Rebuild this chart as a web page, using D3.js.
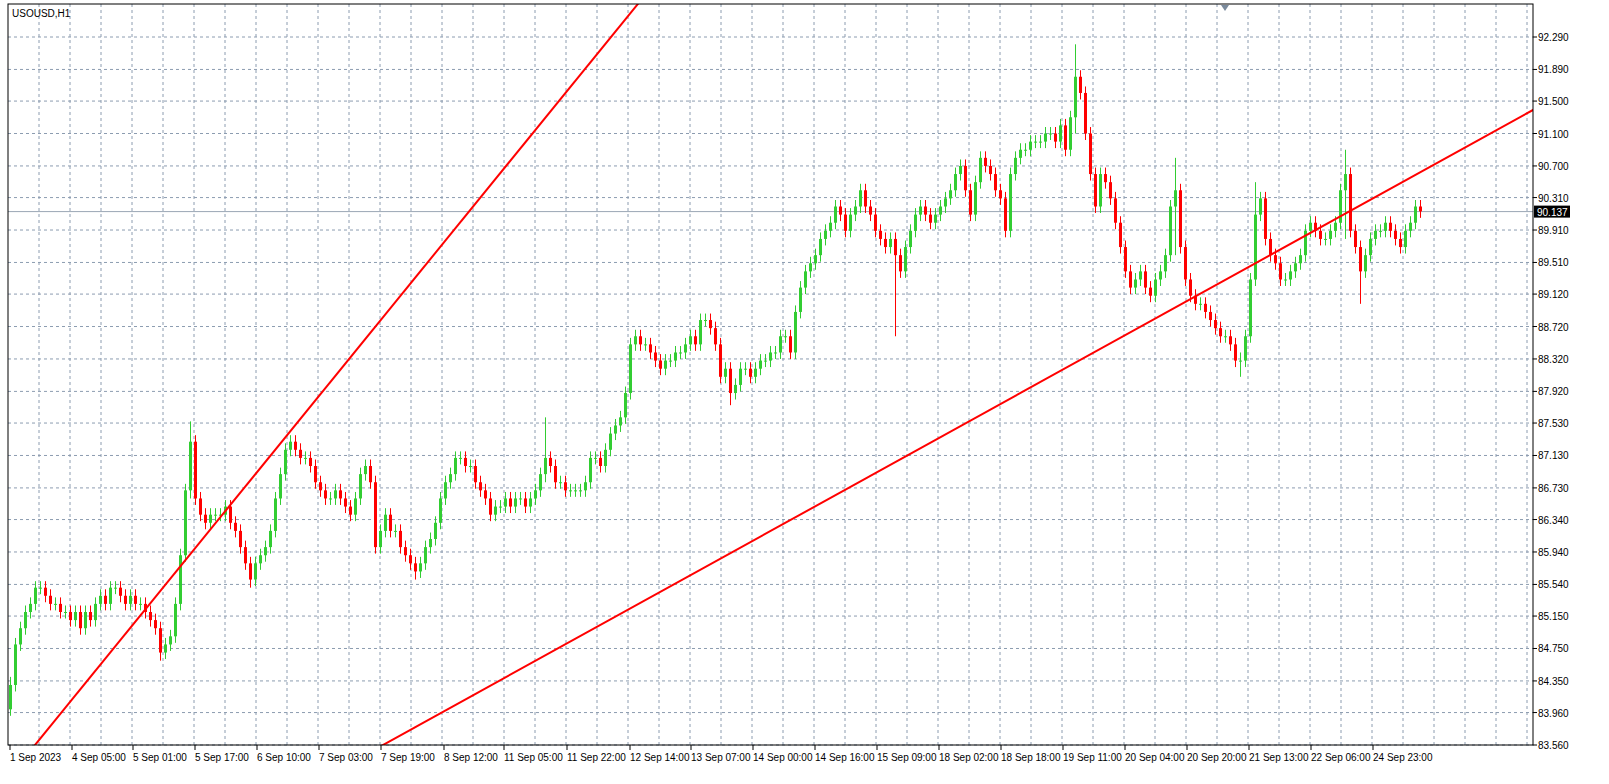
<!DOCTYPE html><html><head><meta charset="utf-8">
<script src="https://cdn.jsdelivr.net/npm/d3@7"></script>
<style>body{margin:0;background:#fff}text{font-family:"Liberation Sans",Arial,sans-serif;font-size:10px}</style>
</head><body><svg id="c" width="1609" height="784"></svg><script>
const title="USOUSD,H1";
const closes=[84.3,84.8,85.0,85.2,85.3,85.5,85.5,85.4,85.3,85.3,85.2,85.2,85.1,85.2,85.0,85.2,85.1,85.3,85.4,85.3,85.5,85.5,85.4,85.3,85.4,85.3,85.3,85.2,85.1,85.0,84.7,84.8,84.9,85.3,85.9,86.7,87.3,86.6,86.4,86.3,86.4,86.4,86.4,86.5,86.3,86.2,86.0,85.8,85.6,85.8,85.9,86.0,86.2,86.6,86.9,87.2,87.3,87.2,87.1,87.1,87.0,86.8,86.7,86.6,86.6,86.7,86.6,86.5,86.4,86.6,86.9,87.0,86.8,86.0,86.2,86.4,86.2,86.2,86.0,85.9,85.8,85.7,85.8,86.0,86.1,86.3,86.6,86.8,86.9,87.1,87.1,87.0,87.0,86.8,86.7,86.6,86.4,86.5,86.5,86.6,86.5,86.6,86.6,86.5,86.6,86.7,86.9,87.1,87.0,86.8,86.8,86.7,86.7,86.7,86.7,86.8,87.1,87.1,87.0,87.2,87.4,87.5,87.6,87.9,88.5,88.6,88.5,88.5,88.4,88.3,88.2,88.3,88.3,88.4,88.4,88.5,88.6,88.5,88.8,88.8,88.7,88.5,88.1,88.2,87.9,88.0,88.2,88.2,88.1,88.2,88.3,88.3,88.4,88.4,88.6,88.6,88.4,88.9,89.2,89.4,89.5,89.6,89.8,89.9,90.0,90.2,90.1,89.9,90.1,90.2,90.4,90.2,90.1,89.9,89.8,89.7,89.8,89.6,89.4,89.7,89.9,90.1,90.2,90.1,90.0,90.1,90.2,90.3,90.4,90.6,90.7,90.4,90.1,90.5,90.8,90.7,90.6,90.4,90.3,89.9,90.6,90.8,90.9,90.9,91.0,91.0,91.0,91.1,91.1,91.0,91.2,90.9,91.3,91.8,91.6,91.1,90.6,90.2,90.6,90.5,90.3,90.0,89.7,89.4,89.2,89.3,89.4,89.2,89.1,89.3,89.4,89.6,90.2,90.4,89.7,89.3,89.1,89.0,89.0,88.9,88.8,88.7,88.6,88.6,88.5,88.3,88.3,88.6,89.3,90.1,90.3,89.8,89.6,89.5,89.3,89.3,89.4,89.5,89.6,89.9,90.0,89.9,89.8,89.8,89.9,90.0,90.4,90.6,89.9,89.7,89.4,89.6,89.8,89.9,89.9,90.0,89.9,89.8,89.7,89.9,90.0,90.2,90.14];
const openFirst=84.0;
// notable wicks: [bar index, high, low]
const spikes=[[0,84.4,84.2],[36,87.55,86.6],[30,84.8,84.6],[48,85.7,85.5],[81,85.8,85.6],[107,87.6,86.8],[144,87.9,87.75],[177,89.8,88.6],[213,92.2,91.1],[233,90.8,89.6],[246,88.4,88.1],[249,90.5,89.3],[267,90.9,89.8],[270,89.7,89.0]];
const yTicks=[92.290,91.890,91.500,91.100,90.700,90.310,89.910,89.510,89.120,88.720,88.320,87.920,87.530,87.130,86.730,86.340,85.940,85.540,85.150,84.750,84.350,83.960,83.560];
const xLabels=["1 Sep 2023","4 Sep 05:00","5 Sep 01:00","5 Sep 17:00","6 Sep 10:00","7 Sep 03:00","7 Sep 19:00","8 Sep 12:00","11 Sep 05:00","11 Sep 22:00","12 Sep 14:00","13 Sep 07:00","14 Sep 00:00","14 Sep 16:00","15 Sep 09:00","18 Sep 02:00","18 Sep 18:00","19 Sep 11:00","20 Sep 04:00","20 Sep 20:00","21 Sep 13:00","22 Sep 06:00","24 Sep 23:00"];
const xLabelIdx=[0,12.4,24.6,37,49.4,61.8,74.2,86.8,98.8,111.4,124,136.2,148.6,161,173.4,185.8,198.2,210.6,223,235.4,247.8,260.2,272.6];
const lines=[[[5,83.56],[125.4,92.684]],[[74.6,83.56],[304.6,91.39]]];
const lastPrice=90.137;
const L=8,T=4,R=1533,B=745;
const svg=d3.select("#c");
const x=d3.scaleLinear().domain([0,1]).range([10,15]);
const y=d3.scaleLinear().domain([83.56,92.29]).range([745,37]);
const data=closes.map((c,i)=>{const o=i?closes[i-1]:openFirst;let h=Math.max(o,c)+0.08,l=Math.min(o,c)-0.08;const s=spikes.find(d=>d[0]===i);if(s){h=Math.max(h,s[1]);l=Math.min(l,s[2]);}return{i,o,c,h,l};});
const g=svg.append("g");
for(let k=0;k*31+39<R;k++){const gx=39+k*31;g.append("line").attr("x1",gx).attr("x2",gx).attr("y1",T).attr("y2",B).attr("stroke","#8c9cb0").attr("stroke-dasharray","3,3");}
yTicks.forEach(v=>g.append("line").attr("x1",L).attr("x2",R).attr("y1",y(v)).attr("y2",y(v)).attr("stroke","#8c9cb0").attr("stroke-dasharray","3,3"));
g.append("line").attr("x1",L).attr("x2",R).attr("y1",y(lastPrice)).attr("y2",y(lastPrice)).attr("stroke","#9aa6b4");
const cg=svg.append("g");
data.forEach(d=>{const col=d.c>=d.o?"#32cd32":"#ff0000";const cx=Math.round(x(d.i))+0.5;
cg.append("line").attr("x1",cx).attr("x2",cx).attr("y1",y(d.h)).attr("y2",y(d.l)).attr("stroke",col);
const top=y(Math.max(d.o,d.c)),bot=y(Math.min(d.o,d.c));
cg.append("rect").attr("x",cx-1.5).attr("width",3).attr("y",top).attr("height",Math.max(1,bot-top)).attr("fill",col);});
svg.append("clipPath").attr("id","cp").append("rect").attr("x",L).attr("y",T).attr("width",R-L).attr("height",B-T);
lines.forEach(([a,b])=>{const sl=(b[1]-a[1])/(b[0]-a[0]);const i0=-10,i1=400;
svg.append("line").attr("clip-path","url(#cp)").attr("x1",x(i0)).attr("y1",y(a[1]+sl*(i0-a[0]))).attr("x2",x(i1)).attr("y2",y(a[1]+sl*(i1-a[0]))).attr("stroke","#ff0000").attr("stroke-width",2);});
svg.append("rect").attr("x",L).attr("y",T).attr("width",R-L).attr("height",B-T).attr("fill","none").attr("stroke","#000");
yTicks.forEach(v=>{svg.append("line").attr("x1",R).attr("x2",R+4).attr("y1",y(v)).attr("y2",y(v)).attr("stroke","#000");
svg.append("text").attr("x",R+5).attr("y",y(v)+4).text(v.toFixed(3));});
svg.append("rect").attr("x",R+1).attr("y",y(lastPrice)-6).attr("width",36).attr("height",12).attr("fill","#000");
svg.append("text").attr("x",R+4).attr("y",y(lastPrice)+4).attr("fill","#fff").text(lastPrice.toFixed(3));
xLabels.forEach((t,k)=>{const px=x(xLabelIdx[k]);svg.append("line").attr("x1",px).attr("x2",px).attr("y1",B).attr("y2",B+5).attr("stroke","#000");
svg.append("text").attr("x",px).attr("y",B+16).text(t);});
svg.append("path").attr("d","M1221,5L1229,5L1225,11Z").attr("fill","#7a8a9c");
svg.append("text").attr("x",12).attr("y",17).text(title);
</script></body></html>
